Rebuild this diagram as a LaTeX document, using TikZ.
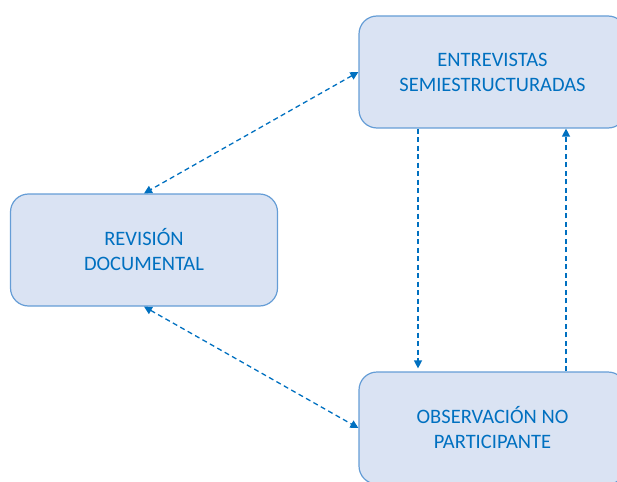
\documentclass[tikz,border=0pt]{standalone}
\usepackage{fontspec}
\setmainfont{Carlito}
\usetikzlibrary{arrows.meta}
\definecolor{BoxFill}{RGB}{218,227,243}
\definecolor{BoxLine}{RGB}{101,157,214}
\definecolor{TextClr}{RGB}{0,112,192}

\begin{document}
\begin{tikzpicture}[x=1pt,y=-1pt,>={Triangle[length=8pt,width=8pt]},
  box/.style={draw=BoxLine,line width=1.2pt,fill=BoxFill,rounded corners=18pt,
    minimum width=267pt,minimum height=112pt,align=center,text=TextClr,
    font=\fontsize{20.5}{25}\selectfont},
  link/.style={draw=TextClr,line width=1.3pt,dash pattern=on 5pt off 3.5pt}]
\useasboundingbox (0,0) rectangle (617,481);
\clip (0,0) rectangle (617,481);

\node[box] (ent) at (492.5,72) {ENTREVISTAS\\SEMIESTRUCTURADAS};
\node[box] (rev) at (144,250) {REVISIÓN\\DOCUMENTAL};
\node[box] (obs) at (492.5,428) {OBSERVACIÓN NO\\PARTICIPANTE};

\draw[link,<->] (ent.west) -- (rev.north);
\draw[link,<->] (rev.south) -- (obs.west);
\draw[link,->,shorten >=3pt] ([xshift=-74.5pt]ent.south) -- ([xshift=-74.5pt]obs.north);
\draw[link,->] ([xshift=73.5pt]obs.north) -- ([xshift=73.5pt]ent.south);

\end{tikzpicture}
\end{document}
